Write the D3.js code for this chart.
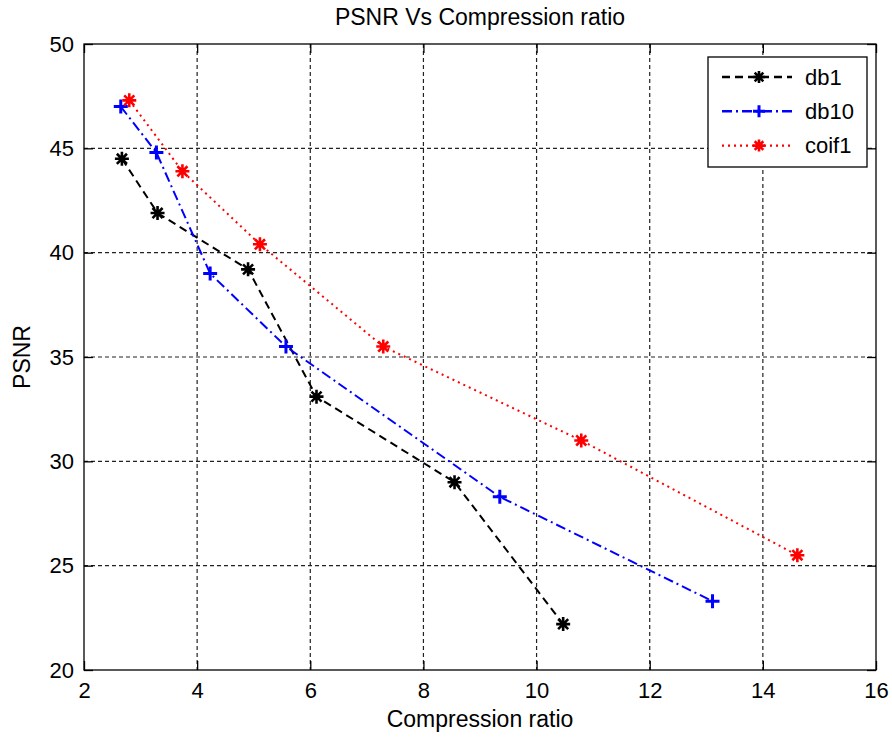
<!DOCTYPE html>
<html>
<head>
<meta charset="utf-8">
<script src="https://cdn.jsdelivr.net/npm/d3@7"></script>
<style>
  body { margin: 0; background: #fff; }
  text { font-family: "Liberation Sans", Arial, sans-serif; fill: #000; }
</style>
</head>
<body>
<div id="chart"></div>
<script>
// values
var db1X = [2.67, 3.30, 4.90, 6.11, 8.55, 10.47];
var db1Y = [44.5, 41.9, 39.2, 33.1, 29.0, 22.2];
var db10X = [2.65, 3.28, 4.23, 5.57, 9.35, 13.11];
var db10Y = [47.0, 44.8, 39.0, 35.5, 28.3, 23.3];
var coif1X = [2.80, 3.74, 5.11, 7.29, 10.79, 14.61];
var coif1Y = [47.3, 43.9, 40.4, 35.5, 31.0, 25.5];
var xTicks = [2, 4, 6, 8, 10, 12, 14, 16];
var yTicks = [20, 25, 30, 35, 40, 45, 50];

var width = 892, height = 738;
var margin = {top: 44, right: 16, bottom: 68, left: 84};
var w = width - margin.left - margin.right;
var h = height - margin.top - margin.bottom;

var series = [
  {name: 'db1', xs: db1X, ys: db1Y, color: '#000000', dash: '8,5', marker: 'star'},
  {name: 'db10', xs: db10X, ys: db10Y, color: '#0000ff', dash: '10,4,2,4', marker: 'plus'},
  {name: 'coif1', xs: coif1X, ys: coif1Y, color: '#ff0000', dash: '2,4', marker: 'star'}
];

var svg = d3.select('#chart').append('svg').attr('width', width).attr('height', height);
var g = svg.append('g').attr('transform', 'translate(' + margin.left + ',' + margin.top + ')');

var x = d3.scaleLinear().domain([2, 16]).range([0, w]);
var y = d3.scaleLinear().domain([20, 50]).range([h, 0]);

// grid
g.append('g').selectAll('line').data(xTicks.slice(1, -1)).enter().append('line')
  .attr('x1', x).attr('x2', x).attr('y1', 0).attr('y2', h)
  .attr('stroke', '#222').attr('stroke-width', 1.2).attr('stroke-dasharray', '4,3');
g.append('g').selectAll('line').data(yTicks.slice(1, -1)).enter().append('line')
  .attr('y1', y).attr('y2', y).attr('x1', 0).attr('x2', w)
  .attr('stroke', '#222').attr('stroke-width', 1.2).attr('stroke-dasharray', '4,3');

// axes (ticks inside, mirrored)
var tl = 9;
g.append('g').attr('transform', 'translate(0,' + h + ')')
  .call(d3.axisBottom(x).tickValues(xTicks).tickSizeInner(-tl).tickSizeOuter(0).tickPadding(12));
g.append('g').call(d3.axisTop(x).tickValues(xTicks).tickSizeInner(-tl).tickSizeOuter(0).tickFormat(''));
g.append('g')
  .call(d3.axisLeft(y).tickValues(yTicks).tickSizeInner(-tl).tickSizeOuter(0).tickPadding(10));
g.append('g').attr('transform', 'translate(' + w + ',0)')
  .call(d3.axisRight(y).tickValues(yTicks).tickSizeInner(-tl).tickSizeOuter(0).tickFormat(''));
g.selectAll('.domain').remove();
g.selectAll('.tick line').attr('stroke', '#000').attr('stroke-width', 1.3);
g.selectAll('.tick text').attr('font-size', 22).attr('font-family', '"Liberation Sans", Arial, sans-serif').attr('fill', '#000');
g.append('rect').attr('width', w).attr('height', h)
  .attr('fill', 'none').attr('stroke', '#000').attr('stroke-width', 1.3);

function drawMarker(sel, type, color, s) {
  if (type === 'plus') {
    sel.append('path').attr('d', 'M' + (-s) + ',0H' + s + 'M0,' + (-s) + 'V' + s)
      .attr('stroke', color).attr('stroke-width', 3).attr('fill', 'none');
  } else {
    var d = s * 0.72;
    sel.append('path')
      .attr('d', 'M' + (-s) + ',0H' + s + 'M0,' + (-s) + 'V' + s +
        'M' + (-d) + ',' + (-d) + 'L' + d + ',' + d + 'M' + (-d) + ',' + d + 'L' + d + ',' + (-d))
      .attr('stroke', color).attr('stroke-width', 2.6).attr('fill', 'none');
    sel.append('circle').attr('r', s * 0.42).attr('fill', color);
  }
}

var line = d3.line().x(function (d) { return x(d[0]); }).y(function (d) { return y(d[1]); });

series.forEach(function (s) {
  var pts = s.xs.map(function (v, i) { return [v, s.ys[i]]; });
  g.append('path').datum(pts).attr('d', line)
    .attr('fill', 'none').attr('stroke', s.color).attr('stroke-width', 2)
    .attr('stroke-dasharray', s.dash);
  pts.forEach(function (p) {
    var m = g.append('g').attr('transform', 'translate(' + x(p[0]) + ',' + y(p[1]) + ')');
    drawMarker(m, s.marker, s.color, 7);
  });
});

// legend
var lg = g.append('g').attr('transform', 'translate(' + (708 - margin.left) + ',' + (57 - margin.top) + ')');
lg.append('rect').attr('width', 159).attr('height', 110)
  .attr('fill', '#fff').attr('stroke', '#000').attr('stroke-width', 1.3);
series.forEach(function (s, i) {
  var yy = 20 + i * 34.3;
  lg.append('line').attr('x1', 14).attr('x2', 84).attr('y1', yy).attr('y2', yy)
    .attr('stroke', s.color).attr('stroke-width', 2.4).attr('stroke-dasharray', s.dash);
  var m = lg.append('g').attr('transform', 'translate(51,' + yy + ')');
  drawMarker(m, s.marker, s.color, 6);
  lg.append('text').attr('x', 97).attr('y', yy).attr('dy', '0.35em')
    .attr('font-size', 22).text(s.name);
});

// titles
svg.append('text').attr('x', margin.left + w / 2).attr('y', 25)
  .attr('text-anchor', 'middle').attr('font-size', 23).text('PSNR Vs Compression ratio');
svg.append('text').attr('x', margin.left + w / 2).attr('y', 727)
  .attr('text-anchor', 'middle').attr('font-size', 23).text('Compression ratio');
svg.append('text').attr('transform', 'translate(30,' + (margin.top + h / 2) + ') rotate(-90)')
  .attr('text-anchor', 'middle').attr('font-size', 23).text('PSNR');
</script>
</body>
</html>
